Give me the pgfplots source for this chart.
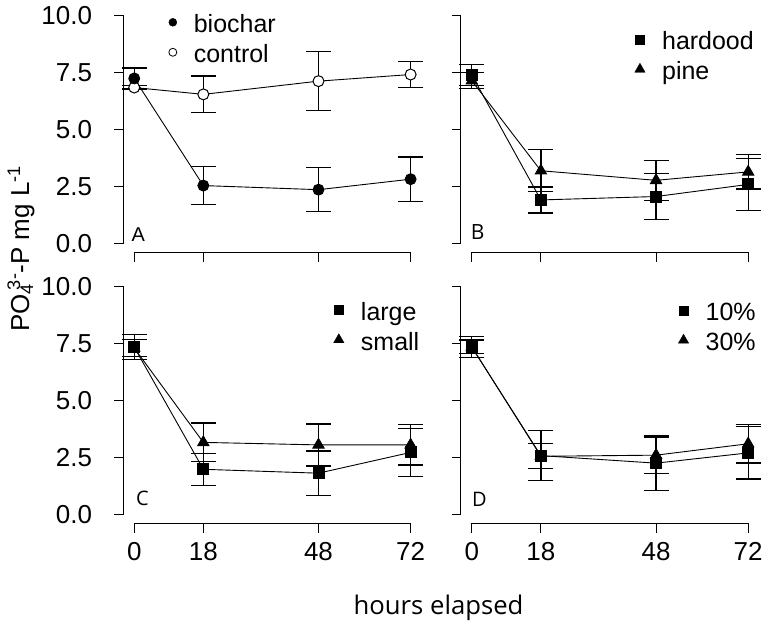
\documentclass[border=0pt]{standalone}
\usepackage{fontspec}
\setmainfont{Liberation Sans}
\newfontfamily\opensans{Open Sans}
\usepackage{pgfplots}
\pgfplotsset{compat=1.18}
\usepackage{pgfplotstable}

\pgfplotstableread{
x y e
0 7.25 0.45
18 2.55 0.83
48 2.37 0.97
72 2.83 0.97
}\biochar
\pgfplotstableread{
x y e
0 6.85 0.10
18 6.55 0.80
48 7.13 1.30
72 7.42 0.58
}\control
\pgfplotstableread{
x y e
0 7.40 0.47
18 1.92 0.57
48 2.07 1.00
72 2.60 1.15
}\hardwood
\pgfplotstableread{
x y e
0 7.15 0.35
18 3.20 0.92
48 2.78 0.88
72 3.15 0.75
}\pine
\pgfplotstableread{
x y e
0 7.34 0.55
18 1.98 0.70
48 1.81 0.97
72 2.72 1.05
}\largeT
\pgfplotstableread{
x y e
0 7.30 0.38
18 3.16 0.85
48 3.05 0.92
72 3.05 0.88
}\smallT
\pgfplotstableread{
x y e
0 7.34 0.45
18 2.58 1.10
48 2.25 1.20
72 2.70 1.15
}\tenpc
\pgfplotstableread{
x y e
0 7.35 0.30
18 2.55 0.55
48 2.60 0.80
72 3.10 0.85
}\thirtypc

\pgfplotsset{
  panel/.style={
    scale only axis, width=298.8pt, height=246.5pt,
    xmin=-2.88, xmax=74.88, ymin=-0.4, ymax=10.4,
    axis x line*=bottom, axis y line*=left,
    axis line style={draw=none},
    xtick={0,18,48,72}, ytick={0,2.5,5,7.5,10},
    tick align=outside, major tick length=9pt,
    every tick/.style={draw=black, line width=1.1pt},
    yticklabel style={font=\fontsize{26}{30}\selectfont, anchor=east, inner sep=0pt, xshift=-22pt},
    xticklabel style={font=\fontsize{26}{30}\selectfont, anchor=center, inner sep=0pt, yshift=-19pt},
    yticklabels={0.0,2.5,5.0,7.5,10.0},
    xticklabels={0,18,48,72},
    clip=false,
    anchor=south west,
    legend style={draw=none, fill=none, inner sep=0pt, outer sep=0pt,
      anchor=north west, font=\fontsize{25}{30}\selectfont,
      row sep=0pt, column sep=17pt,
      nodes={inner sep=0pt, text height=25.7pt, text depth=4.3pt}},
    legend cell align=left,
    legend image code/.code={\draw[##1] plot coordinates {(0pt,0pt)};},
  },
  noxlabels/.style={xticklabels={}},
  noylabels/.style={yticklabels={}},
  ser/.style={black, line width=0.9pt, forget plot,
    error bars/y dir=both, error bars/y explicit,
    error bars/error bar style={line width=1.3pt, black},
    error bars/error mark options={rotate=90, mark size=12.5pt, line width=1.3pt, black}},
  sq/.style={mark=square*, mark size=5.5pt, mark options={solid, fill=black}},
  tri/.style={mark=triangle*, mark size=6.5pt, mark options={solid, fill=black}},
}
\newcommand\axlines{%
  \draw[black, line width=1.1pt, line cap=rect] (axis cs:-2.88,0) -- (axis cs:-2.88,10);
  \draw[black, line width=1.1pt, line cap=rect] (axis cs:0,-0.4) -- (axis cs:72,-0.4);
  \pgfplotsinvokeforeach{0,2.5,5,7.5,10}{\draw[black, line width=1.1pt] (axis cs:-2.88,##1) -- ++(-9pt,0pt);}
  \pgfplotsinvokeforeach{0,18,48,72}{\draw[black, line width=1.1pt] (axis cs:##1,-0.4) -- ++(0pt,-9pt);}}

\begin{document}
\begin{tikzpicture}
\path (0pt,0pt) rectangle (764pt,628pt);

% Panel A
\begin{axis}[panel, noxlabels, at={(123.3pt,374.9pt)},
  legend style={at={(0.153,0.997)}}]
\axlines
\addplot[ser, mark=*, mark size=5.5pt, mark options={solid, fill=white, line width=1pt}] table[x=x,y=y,y error=e]{\control};
\addplot[ser, mark=*, mark size=5.5pt, mark options={solid, fill=black}] table[x=x,y=y,y error=e]{\biochar};
\addlegendimage{black, mark=*, mark size=4pt, mark options={fill=black}}
\addlegendentry{biochar}
\addlegendimage{black, mark=*, mark size=4pt, mark options={fill=white, line width=0.8pt}}
\addlegendentry{control}
\node[font=\fontsize{20}{22}\selectfont] at (axis cs:1.04,0.39) {A};
\end{axis}

% Panel B
\begin{axis}[panel, noxlabels, noylabels, at={(461.2pt,374.9pt)},
  legend style={at={(0.583,0.928)}}]
\axlines
\addplot[ser, tri] table[x=x,y=y,y error=e]{\pine};
\addplot[ser, sq] table[x=x,y=y,y error=e]{\hardwood};
\addlegendimage{black, mark=square*, mark size=4.5pt}
\addlegendentry{hardood}
\addlegendimage{black, mark=triangle*, mark size=6pt}
\addlegendentry{pine}
\node[font=\opensans\fontsize{21}{24}\selectfont] at (axis cs:1.56,0.5) {B};
\end{axis}

% Panel C
\begin{axis}[panel, at={(123.3pt,103.9pt)},
  legend style={at={(0.705,0.929)}}]
\axlines
\addplot[ser, tri] table[x=x,y=y,y error=e]{\smallT};
\addplot[ser, sq] table[x=x,y=y,y error=e]{\largeT};
\addlegendimage{black, mark=square*, mark size=4.5pt}
\addlegendentry{large}
\addlegendimage{black, mark=triangle*, mark size=6pt}
\addlegendentry{small}
\node[font=\opensans\fontsize{20}{24}\selectfont] at (axis cs:2.13,0.7) {C};
\end{axis}

% Panel D
\begin{axis}[panel, noylabels, at={(461.2pt,103.9pt)},
  legend style={at={(0.729,0.927)}}]
\axlines
\addplot[ser, tri] table[x=x,y=y,y error=e]{\thirtypc};
\addplot[ser, sq] table[x=x,y=y,y error=e]{\tenpc};
\addlegendimage{black, mark=square*, mark size=4.5pt}
\addlegendentry{10\%}
\addlegendimage{black, mark=triangle*, mark size=6pt}
\addlegendentry{30\%}
\node[font=\opensans\fontsize{20}{24}\selectfont] at (axis cs:2.0,0.66) {D};
\end{axis}

\node[anchor=base, font=\opensans\fontsize{25.7}{30}\selectfont] at (439pt,13pt) {hours elapsed};
\node[rotate=90, font=\fontsize{26}{30}\selectfont] at (21pt,379pt)
  {PO\textsubscript{4}\kern-0.25em\textsuperscript{3-}-P mg L\textsuperscript{-1}};
\end{tikzpicture}
\end{document}
